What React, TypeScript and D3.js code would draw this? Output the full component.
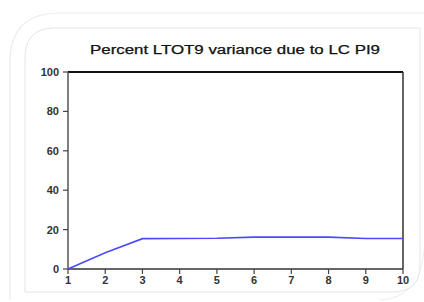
import React from "react";
import * as d3 from "d3";

const periods = [1, 2, 3, 4, 5, 6, 7, 8, 9, 10];
const variance = [0, 8.2, 15.4, 15.5, 15.6, 16.2, 16.2, 16.2, 15.5, 15.5];
const yTicks = [0, 20, 40, 60, 80, 100];
const title = "Percent LTOT9 variance due to LC PI9";

export default function App() {
  const W = 424, H = 302;
  const x = d3.scaleLinear().domain([1, 10]).range([68, 403]);
  const y = d3.scaleLinear().domain([0, 100]).range([269, 72]);
  const line = d3.line<number>().x((_, i) => x(periods[i])).y((d) => y(d));
  const font = "'Liberation Sans', Arial, sans-serif";
  return (
    <svg width={W} height={H} style={{ position: "absolute", left: 0, top: 0, background: "#fff" }}>
      <rect width={W} height={H} fill="#fff" />
      {/* outer faint rounded frame */}
      <path d="M10,300 L10,62 Q10,13 60,13 L424,13" fill="none" stroke="#ececec" strokeWidth={1.2} />
      <path d="M424,250 Q420,298 380,300" fill="none" stroke="#eeeeee" strokeWidth={1} />
      {/* inner frame */}
      <path d="M25,292 L25,58 Q25,28 55,28 L420,28 L420,265 Q420,292 392,292 Z" fill="#fff" stroke="#e4e4e4" strokeWidth={1} />
      <text x={235} y={54} textAnchor="middle" fontFamily={font} fontSize={12} fill="#111" stroke="#111" strokeWidth={0.25} textLength={290} lengthAdjust="spacingAndGlyphs">
        {title}
      </text>
      {/* plot frame */}
      <line x1={x(1)} x2={x(10)} y1={y(100)} y2={y(100)} stroke="#111" strokeWidth={2} />
      <line x1={x(10)} x2={x(10)} y1={y(100)} y2={y(0)} stroke="#333" strokeWidth={1.5} />
      <line x1={x(1)} x2={x(1)} y1={y(100)} y2={y(0)} stroke="#555" strokeWidth={1.5} />
      <line x1={x(1)} x2={x(10)} y1={y(0)} y2={y(0)} stroke="#333" strokeWidth={1.5} />
      {yTicks.map((t) => (
        <g key={t}>
          <line x1={x(1) - 5} x2={x(1)} y1={y(t)} y2={y(t)} stroke="#444" strokeWidth={1.2} />
          <text x={x(1) - 9} y={y(t) + 4} textAnchor="end" fontFamily={font} fontSize={11} fontWeight="bold" fill="#333">
            {t}
          </text>
        </g>
      ))}
      {periods.map((p) => (
        <g key={p}>
          <line x1={x(p)} x2={x(p)} y1={y(0)} y2={y(0) + 5} stroke="#444" strokeWidth={1.2} />
          <text x={x(p)} y={y(0) + 15} textAnchor="middle" fontFamily={font} fontSize={11} fontWeight="bold" fill="#333">
            {p}
          </text>
        </g>
      ))}
      <path d={line(variance) || ""} fill="none" stroke="#4a4aff" strokeWidth={1.6} />
    </svg>
  );
}
